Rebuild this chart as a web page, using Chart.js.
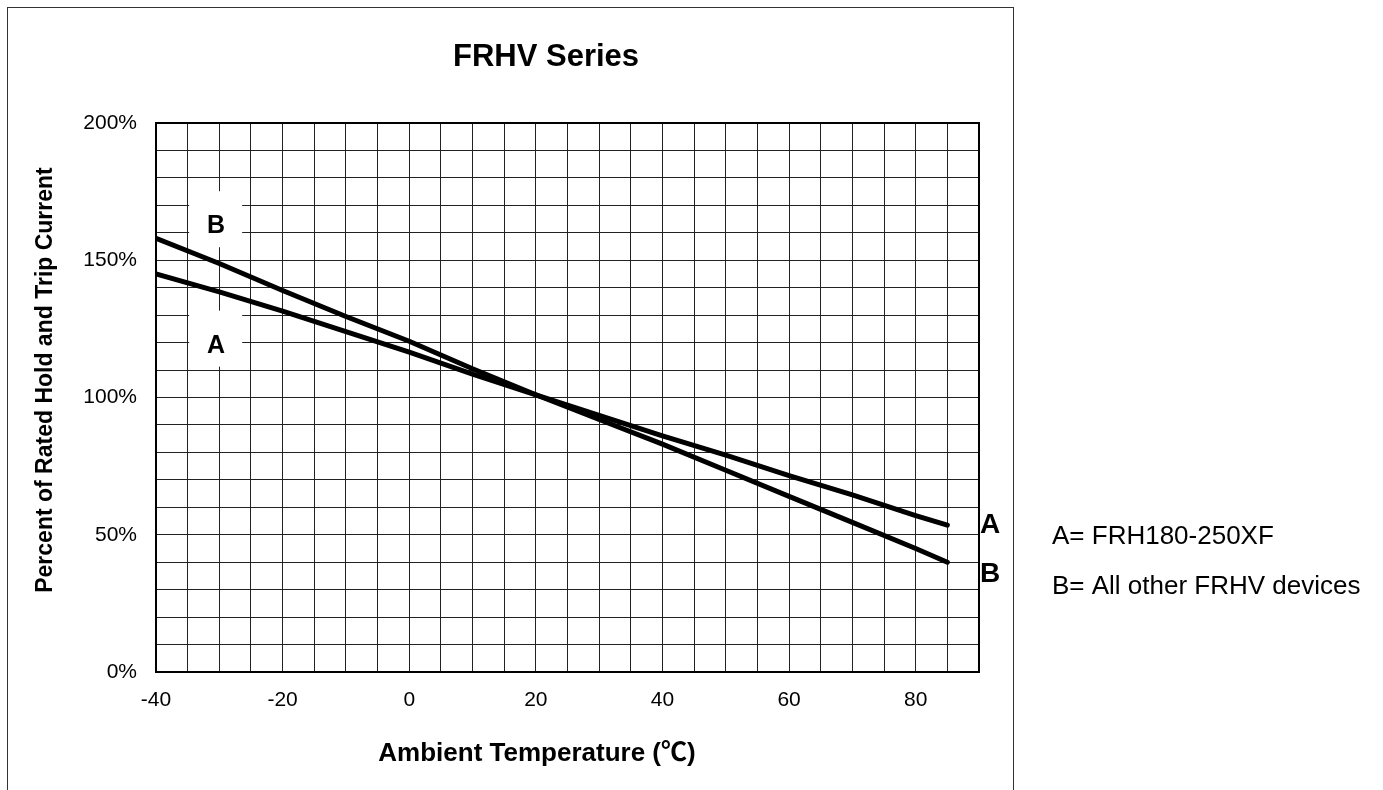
<!DOCTYPE html>
<html>
<head>
<meta charset="utf-8">
<title>FRHV Series</title>
<script src="https://cdn.jsdelivr.net/npm/chart.js@4.4.1/dist/chart.umd.min.js"></script>
<style>
  html, body { margin: 0; padding: 0; background: #fff; }
  #wrap { position: relative; width: 1383px; height: 790px; }
</style>
</head>
<body>
<div id="wrap"><canvas id="derating" width="1383" height="790"></canvas></div>
<script>
// values
const temps = [-40, -30, -20, -10, 0, 10, 20, 30, 40, 50, 60, 70, 80, 85];
const curveA = [145, 138.5, 131.5, 124, 116.5, 108.5, 101, 93.5, 86, 79, 71.5, 64.5, 57, 53.5];
const curveB = [158, 148.8, 139, 129.5, 120.5, 110.5, 101, 92, 83, 73.5, 64, 54.5, 45, 40];
const xLabelTicks = [-40, -20, 0, 20, 40, 60, 80];
const yLabelTicks = [0, 50, 100, 150, 200];

const FONT = '"Liberation Sans", Arial, "Noto Sans CJK SC", sans-serif';

function toPoints(ys) {
    return temps.map((t, i) => ({ x: t, y: ys[i] }));
}

const sheetText = {
    id: 'sheetText',
    beforeDatasetsDraw(chart) {
        const { ctx, chartArea, scales } = chart;
        ctx.save();
        // white patches behind the in-plot curve labels
        ctx.fillStyle = '#fff';
        const bx = scales.x.getPixelForValue(-30.5);
        ctx.fillRect(bx - 27, scales.y.getPixelForValue(162.4) - 35, 53, 56);
        ctx.fillRect(bx - 27, scales.y.getPixelForValue(118.9) - 35, 53, 56);
        // heavier frame round the plot
        ctx.strokeStyle = '#000';
        ctx.lineWidth = 2;
        ctx.strokeRect(chartArea.left, chartArea.top, chartArea.right - chartArea.left, chartArea.bottom - chartArea.top);
        ctx.restore();
    },
    afterDraw(chart) {
        const { ctx, scales } = chart;
        ctx.save();
        ctx.fillStyle = '#000';
        ctx.textBaseline = 'middle';

        // outer frame
        ctx.strokeStyle = '#333';
        ctx.lineWidth = 1;
        ctx.strokeRect(7.5, 7.5, 1006, 800);

        ctx.textAlign = 'center';
        ctx.font = 'bold 31px ' + FONT;
        ctx.fillText('FRHV Series', 546, 57);

        ctx.font = 'bold 26px ' + FONT;
        ctx.fillText('Ambient Temperature (℃)', 537, 754);

        ctx.save();
        ctx.translate(46, 380);
        ctx.rotate(-Math.PI / 2);
        ctx.font = 'bold 23px ' + FONT;
        ctx.fillText('Percent of Rated Hold and Trip Current', 0, 0);
        ctx.restore();

        // curve tags inside the plot
        ctx.font = 'bold 25px ' + FONT;
        const bx = scales.x.getPixelForValue(-30.5);
        ctx.fillText('B', bx, scales.y.getPixelForValue(162.4));
        ctx.fillText('A', bx, scales.y.getPixelForValue(118.9));

        // curve tags at the right end
        ctx.font = 'bold 28px ' + FONT;
        ctx.fillText('A', 990, 525);
        ctx.fillText('B', 990, 574);

        // key
        ctx.textAlign = 'left';
        ctx.font = '26px ' + FONT;
        ctx.fillText('A= FRH180-250XF', 1052, 537);
        ctx.fillText('B= All other FRHV devices', 1052, 587);
        ctx.restore();
    }
};

new Chart(document.getElementById('derating'), {
    type: 'line',
    data: {
        datasets: [
            { label: 'A', data: toPoints(curveA) },
            { label: 'B', data: toPoints(curveB) }
        ]
    },
    options: {
        responsive: false,
        animation: false,
        events: [],
        layout: { padding: { left: 0, top: 123, right: 404, bottom: 0 } },
        elements: {
            point: { radius: 0 },
            line: { borderColor: '#000', borderWidth: 5, tension: 0, borderCapStyle: 'round', fill: false }
        },
        plugins: {
            legend: { display: false },
            tooltip: { enabled: false },
            title: { display: false }
        },
        scales: {
            x: {
                type: 'linear',
                min: -40,
                max: 90,
                afterFit(scale) { scale.height = 118; },
                ticks: {
                    stepSize: 5,
                    padding: 16,
                    maxRotation: 0,
                    autoSkip: false,
                    color: '#000',
                    font: { family: FONT, size: 21 },
                    callback: v => xLabelTicks.includes(v) ? String(v) : ''
                },
                grid: { color: '#222', lineWidth: 1, drawTicks: false },
                border: { color: '#000', width: 2 }
            },
            y: {
                min: 0,
                max: 200,
                afterFit(scale) { scale.width = 156; },
                ticks: {
                    stepSize: 10,
                    padding: 19,
                    autoSkip: false,
                    color: '#000',
                    font: { family: FONT, size: 21 },
                    callback: v => yLabelTicks.includes(v) ? v + '%' : ''
                },
                grid: { color: '#222', lineWidth: 1, drawTicks: false },
                border: { color: '#000', width: 2 }
            }
        }
    },
    plugins: [sheetText]
});
</script>
</body>
</html>
